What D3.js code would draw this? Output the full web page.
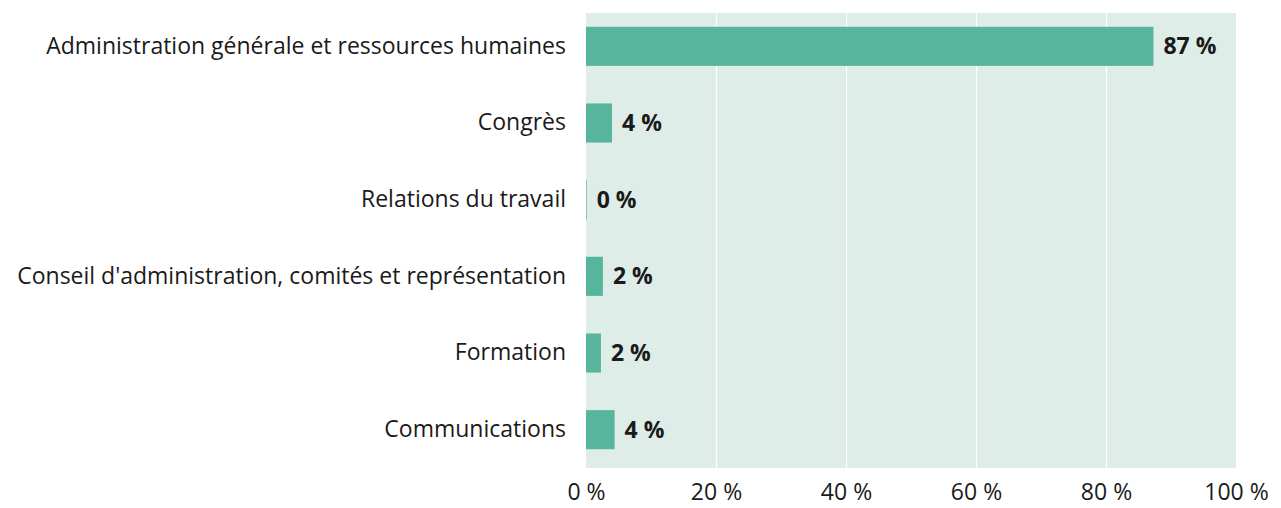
<!DOCTYPE html>
<html>
<head>
<meta charset="utf-8">
<script src="https://cdn.jsdelivr.net/npm/d3@7"></script>
<style>
  body { margin: 0; background: #fff; }
  text { font-family: "Open Sans", sans-serif; fill: #1a1a1a; }
</style>
</head>
<body>
<svg id="chart" width="1281" height="508"></svg>
<script>
const categories = [
  "Administration générale et ressources humaines",
  "Congrès",
  "Relations du travail",
  "Conseil d'administration, comités et représentation",
  "Formation",
  "Communications"
];
const values = [87.3, 4.0, 0.1, 2.6, 2.3, 4.4];
const valueLabels = ["87 %", "4 %", "0 %", "2 %", "2 %", "4 %"];
const ticks = [0, 20, 40, 60, 80, 100];

const svg = d3.select("#chart");
const plotLeft = 586, plotRight = 1236, plotTop = 13, plotBottom = 468;
const fontSize = 23;

const x = d3.scaleLinear().domain([0, 100]).range([plotLeft, plotRight]);
const y = d3.scaleBand()
  .domain(categories)
  .range([8, 468])
  .paddingInner(0.49)
  .paddingOuter(0.245);

// background
svg.append("rect")
  .attr("x", plotLeft).attr("y", plotTop)
  .attr("width", plotRight - plotLeft).attr("height", plotBottom - plotTop)
  .attr("fill", "#deede8");

// grid
svg.append("g")
  .attr("transform", `translate(0,${plotBottom})`)
  .call(d3.axisBottom(x).tickValues(ticks.slice(1, -1)).tickSize(-(plotBottom - plotTop)).tickFormat(""))
  .call(g => g.select(".domain").remove())
  .call(g => g.selectAll("line").attr("stroke", "#fff").attr("stroke-width", 1.2));

// bars
svg.selectAll(".bar")
  .data(categories)
  .join("rect")
  .attr("class", "bar")
  .attr("x", x(0))
  .attr("y", d => y(d))
  .attr("width", (d, i) => x(values[i]) - x(0))
  .attr("height", y.bandwidth())
  .attr("fill", "#57b59e");

// value labels
svg.selectAll(".val")
  .data(categories)
  .join("text")
  .attr("class", "val")
  .attr("x", (d, i) => x(values[i]) + 10)
  .attr("y", d => y(d) + y.bandwidth() / 2)
  .attr("dy", "0.35em")
  .attr("font-size", fontSize)
  .attr("font-weight", "bold")
  .attr("fill", "#111")
  .text((d, i) => valueLabels[i]);

// category labels
svg.append("g")
  .attr("transform", `translate(${plotLeft},0)`)
  .call(d3.axisLeft(y).tickSize(0).tickPadding(20))
  .call(g => g.select(".domain").remove())
  .call(g => g.selectAll("text")
    .attr("font-size", fontSize)
    .attr("font-family", "'Open Sans', sans-serif")
    .attr("fill", "#1a1a1a"));

// x axis labels
svg.append("g")
  .attr("transform", `translate(0,${plotBottom})`)
  .call(d3.axisBottom(x).tickValues(ticks).tickSize(0).tickPadding(16).tickFormat(d => d + " %"))
  .call(g => g.select(".domain").remove())
  .call(g => g.selectAll("text")
    .attr("font-size", fontSize)
    .attr("font-family", "'Open Sans', sans-serif")
    .attr("fill", "#1a1a1a"));
</script>
</body>
</html>
